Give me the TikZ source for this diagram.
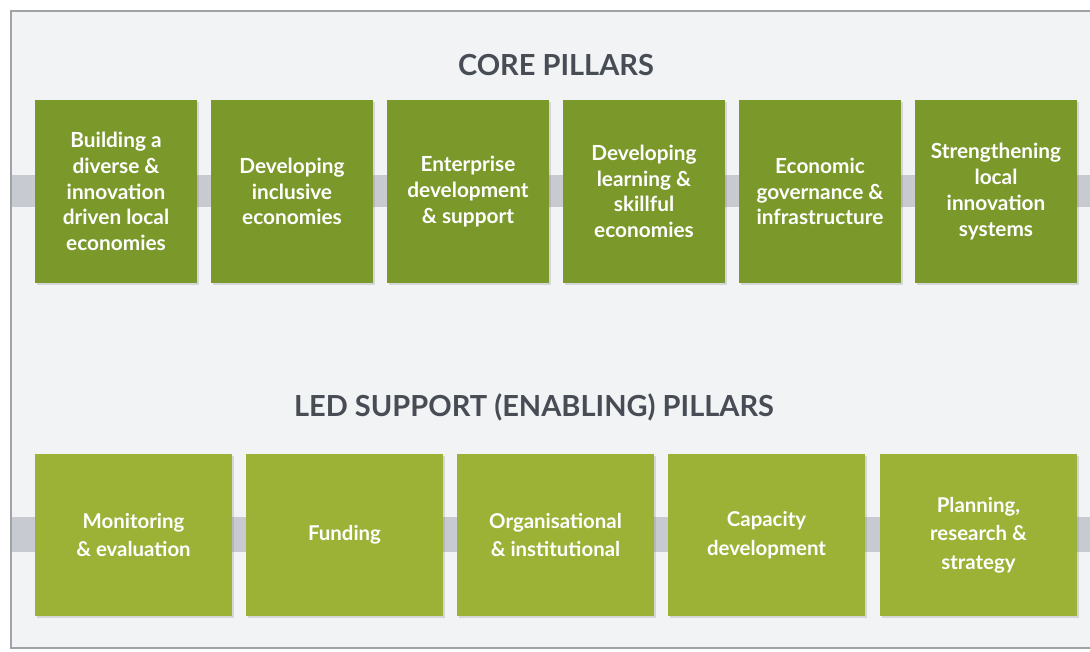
\documentclass[tikz,border=0pt]{standalone}
\usepackage{fontspec}
\setmainfont{Lato}
\usetikzlibrary{shadows}
\definecolor{bgpanel}{HTML}{F2F3F5}
\definecolor{framec}{HTML}{A0A2A6}
\definecolor{bandc}{HTML}{C8CAD2}
\definecolor{coregreen}{HTML}{7B982A}
\definecolor{ledgreen}{HTML}{9BB236}
\definecolor{titlec}{HTML}{474C55}
\tikzset{
  pillar/.style={draw=none, minimum height=#1, inner sep=0pt, align=center,
    text=white,
    drop shadow={shadow xshift=1.5pt, shadow yshift=-1.5pt, opacity=0.25}},
  corebox/.style={pillar=183pt, fill=coregreen, minimum width=162pt,
    font=\fontsize{20.8}{25.7}\selectfont\bfseries},
  ledbox/.style={pillar=162pt, fill=ledgreen, minimum width=197pt,
    font=\fontsize{20.4}{28.3}\selectfont\bfseries},
  heading/.style={text=titlec, font=\fontsize{29}{35}\selectfont\bfseries, inner sep=0pt}
}
\begin{document}
\begin{tikzpicture}[x=1pt,y=-1pt]
\useasboundingbox (0,0) rectangle (1090,651);
\fill[white] (0,0) rectangle (1090,651);
\fill[bgpanel] (11,11) rectangle (1090,648);
\draw[framec, line width=1.2pt] (1090,11) -- (11,11) -- (11,648) -- (1090,648);
% bands
\fill[bandc] (11.6,175) rectangle (1090,207);
\fill[bandc] (11.6,517) rectangle (1090,552);
% titles
\node[heading] (t1) at (556,65) {CORE PILLARS};
\node[heading] (t2) at (534,407) {LED SUPPORT (ENABLING) PILLARS};
% core pillars
\node[corebox] (c1) at (116,191.5) {Building a\\diverse \&\\innovation\\driven local\\economies};
\node[corebox] (c2) at (292,191.5) {Developing\\inclusive\\economies};
\node[corebox] (c3) at (468,191.5) {Enterprise\\development\\\& support};
\node[corebox] (c4) at (644,191.5) {Developing\\learning \&\\skillful\\economies};
\node[corebox] (c5) at (820,191.5) {Economic\\governance \&\\infrastructure};
\node[corebox] (c6) at (996,191.5) {Strengthening\\local\\innovation\\systems};
% LED support pillars
\node[ledbox] (l1) at (133.5,535) {Monitoring\\\& evaluation};
\node[ledbox] (l2) at (344.5,535) {Funding};
\node[ledbox] (l3) at (555.5,535) {Organisational\\\& institutional};
\node[ledbox] (l4) at (766.5,535) {Capacity\\development};
\node[ledbox] (l5) at (978.5,535) {Planning,\\research \&\\strategy};
\end{tikzpicture}
\end{document}
